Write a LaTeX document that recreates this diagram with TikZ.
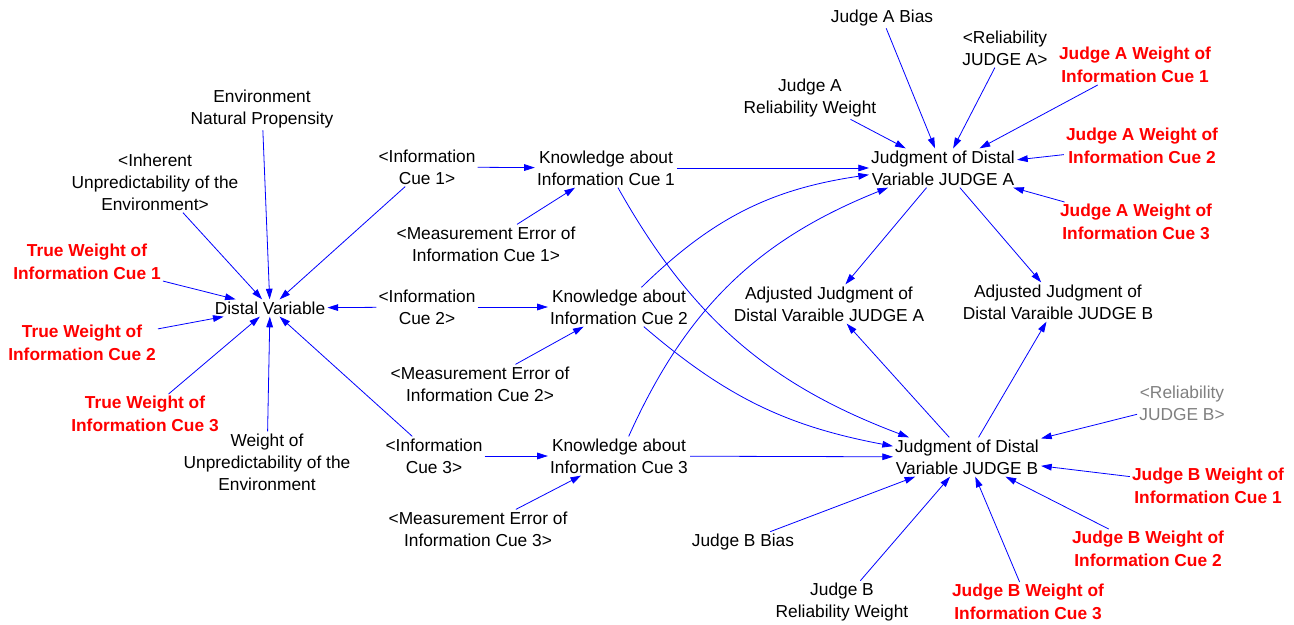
\documentclass[tikz,border=0pt]{standalone}
\usepackage{fontspec}
\setmainfont{Liberation Sans}
\usetikzlibrary{arrows.meta}

\tikzset{
	var/.style={align=center,inner sep=1.5pt},
	redvar/.style={var,text=red,font=\fontsize{13}{17}\selectfont\bfseries},
	ghostvar/.style={var,text=gray},
	link/.style={draw=blue,line width=0.6pt,-{Triangle[length=8pt,width=5pt]}}
}

\begin{document}
\begin{tikzpicture}[x=0.75pt,y=-0.75pt,font=\fontsize{13}{16.5}\selectfont]
	\useasboundingbox (0,0) rectangle (1294,624);

	%environment---------------------------------------------
	\node[var] (dist) at (270,308) {Distal Variable}; %distal variable
	\node[var] (envprop) at (262,109) {Environment\\Natural Propensity}; %propensity
	\node[var] (inherent) at (155,182) {<Inherent\\Unpredictability of the\\Environment>}; %shadow inherent
	\node[redvar] (tw1) at (87,262) {True Weight of\\Information Cue 1}; %true weight 1
	\node[redvar] (tw2) at (82,343) {True Weight of\\Information Cue 2}; %true weight 2
	\node[redvar] (tw3) at (145,414) {True Weight of\\Information Cue 3}; %true weight 3
	\node[var] (wunpred) at (267,462) {Weight of\\Unpredictability of the\\Environment}; %weight unpredictability

	%cues----------------------------------------------------
	\node[var] (cue1) at (427,167) {<Information\\Cue 1>}; %cue 1
	\node[var] (cue2) at (427,307) {<Information\\Cue 2>}; %cue 2
	\node[var] (cue3) at (434,456) {<Information\\Cue 3>}; %cue 3
	\node[var] (know1) at (606,168) {Knowledge about\\Information Cue 1}; %knowledge 1
	\node[var] (know2) at (619,307) {Knowledge about\\Information Cue 2}; %knowledge 2
	\node[var] (know3) at (619,456) {Knowledge about\\Information Cue 3}; %knowledge 3
	\node[var] (err1) at (486,244) {<Measurement Error of\\Information Cue 1>}; %error 1
	\node[var] (err2) at (480,384) {<Measurement Error of\\Information Cue 2>}; %error 2
	\node[var] (err3) at (478,529) {<Measurement Error of\\Information Cue 3>}; %error 3

	%judge A-------------------------------------------------
	\node[var] (judA) at (943,168) {Judgment of Distal\\Variable JUDGE A}; %judgment A
	\node[var] (biasA) at (882,18) {Judge A Bias}; %bias A
	\node[var] (relA) at (1005,48) {<Reliability\\JUDGE A>}; %reliability A
	\node[var] (rwA) at (810,98) {Judge A\\Reliability Weight}; %reliability weight A
	\node[redvar] (jaw1) at (1135,65) {Judge A Weight of\\Information Cue 1}; %A weight 1
	\node[redvar] (jaw2) at (1142,146) {Judge A Weight of\\Information Cue 2}; %A weight 2
	\node[redvar] (jaw3) at (1136,222) {Judge A Weight of\\Information Cue 3}; %A weight 3

	%adjusted------------------------------------------------
	\node[var] (adjA) at (829,304) {Adjusted Judgment of\\Distal Varaible JUDGE A}; %adjusted A
	\node[var] (adjB) at (1058,302) {Adjusted Judgment of\\Distal Varaible JUDGE B}; %adjusted B

	%judge B-------------------------------------------------
	\node[var] (judB) at (967,457) {Judgment of Distal\\Variable JUDGE B}; %judgment B
	\node[ghostvar] (relB) at (1182,403) {<Reliability\\JUDGE B>}; %reliability B
	\node[redvar] (jbw1) at (1208,486) {Judge B Weight of\\Information Cue 1}; %B weight 1
	\node[redvar] (jbw2) at (1148,549) {Judge B Weight of\\Information Cue 2}; %B weight 2
	\node[redvar] (jbw3) at (1028,602) {Judge B Weight of\\Information Cue 3}; %B weight 3
	\node[var] (biasB) at (743,542) {Judge B Bias}; %bias B
	\node[var] (rwB) at (842,602) {Judge B\\Reliability Weight}; %reliability weight B

	%links into distal variable
	\draw[link] (envprop) -- (dist);
	\draw[link] (inherent) -- (dist);
	\draw[link] (tw1) -- (dist);
	\draw[link] (tw2) -- (dist);
	\draw[link] (tw3) -- (dist);
	\draw[link] (wunpred) -- (dist);
	\draw[link] (cue1) -- (dist);
	\draw[link] (cue2) -- (dist);
	\draw[link] (cue3) -- (dist);

	%links into knowledge
	\draw[link] (cue1) -- (know1);
	\draw[link] (cue2) -- (know2);
	\draw[link] (cue3) -- (know3);
	\draw[link] (err1) -- (know1);
	\draw[link] (err2) -- (know2);
	\draw[link] (err3) -- (know3);

	%knowledge to judgments
	\draw[link] (know1) -- (judA); %straight 1
	\draw[link] (know2) to[bend left=18] (judA);
	\draw[link] (know3) to[bend left=22] (judA);
	\draw[link] (know1) to[bend right=20] (judB);
	\draw[link] (know2) to[bend right=15] (judB);
	\draw[link] (know3) -- (judB); %straight 3

	%judge A inputs
	\draw[link] (biasA) -- (judA);
	\draw[link] (relA) -- (judA);
	\draw[link] (rwA) -- (judA);
	\draw[link] (jaw1) -- (judA);
	\draw[link] (jaw2) -- (judA);
	\draw[link] (jaw3) -- (judA);

	%judge B inputs
	\draw[link] (relB) -- (judB);
	\draw[link] (jbw1) -- (judB);
	\draw[link] (jbw2) -- (judB);
	\draw[link] (jbw3) -- (judB);
	\draw[link] (biasB) -- (judB);
	\draw[link] (rwB) -- (judB);

	%adjusted judgments
	\draw[link] (judA) -- (adjA);
	\draw[link] (judA) -- (adjB);
	\draw[link] (judB) -- (adjA);
	\draw[link] (judB) -- (adjB);
\end{tikzpicture}
\end{document}
